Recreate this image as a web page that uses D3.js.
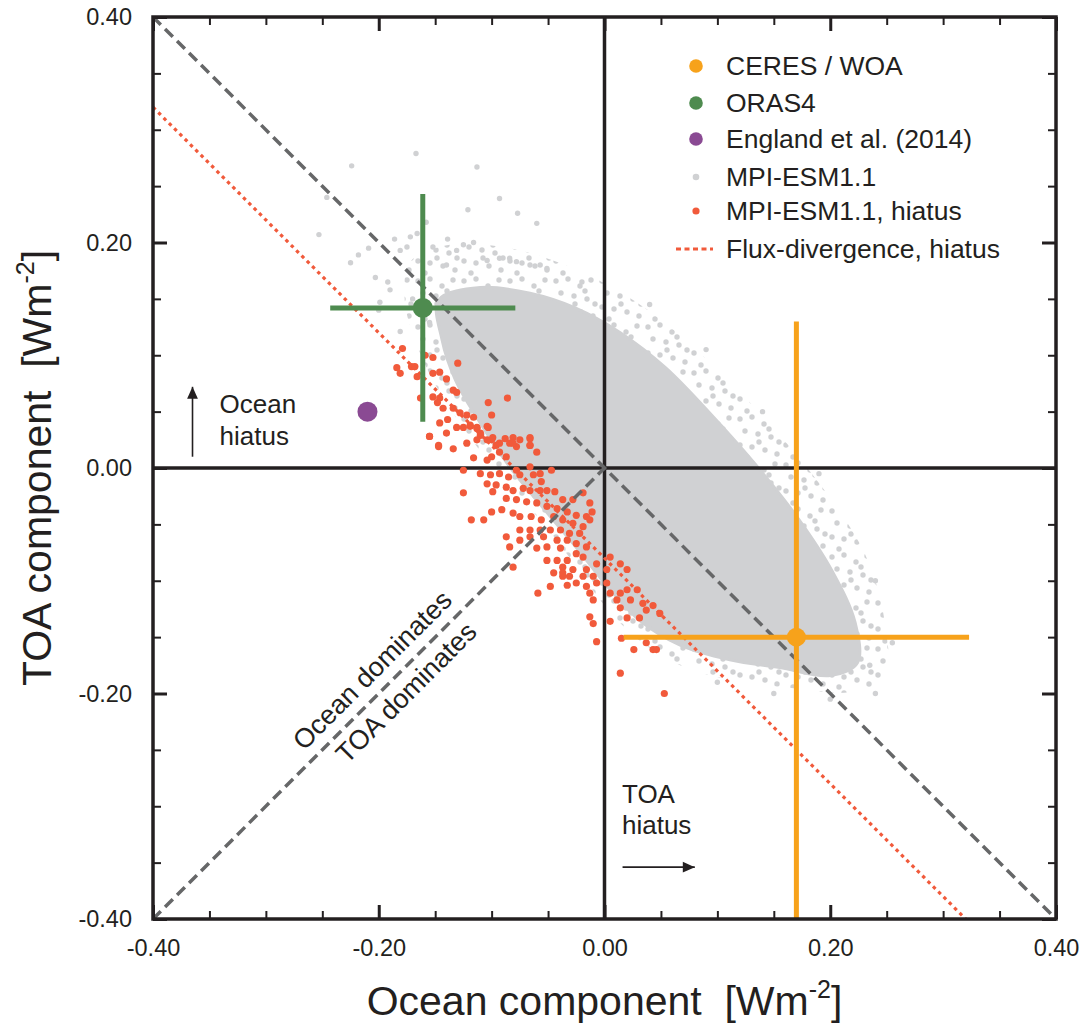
<!DOCTYPE html>
<html><head><meta charset="utf-8">
<script src="https://cdn.jsdelivr.net/npm/d3@7"></script>
<style>
body{margin:0;background:#fff;}
text{font-family:"Liberation Sans",Arial,Helvetica,sans-serif;fill:#231f20;white-space:pre;}
</style>
</head><body>
<svg id="chart" width="1088" height="1027"></svg>
<script>
// ---------------- data ----------------
const majorTicks = [-0.4, -0.2, 0, 0.2, 0.4];
const tickLabels = ["-0.40", "-0.20", "0.00", "0.20", "0.40"];
const minorTicks = [-0.35, -0.3, -0.25, -0.15, -0.1, -0.05, 0.05, 0.1, 0.15, 0.25, 0.3, 0.35];

const ceresWOA = {x: 0.17, y: -0.15, xerr: 0.153, yerr: 0.28};
const oras4 = {x: -0.161, y: 0.142, xerr: 0.082, yerr: 0.101};
const england2014 = {x: -0.21, y: 0.05};

const oneToOneLine = [[-0.4, 0.4], [0.4, -0.4]];
const dominanceLine = [[-0.4, -0.4], [0, 0]];
const fluxDivergenceLine = [[-0.4, 0.32], [0.32, -0.4]];

// MPI-ESM1.1 cloud: outer (sparse) envelope and dense core outline
const mpiEnvelope = [[-0.172,0.183],[-0.137,0.198],[-0.084,0.195],[-0.035,0.180],[0.014,0.156],[0.062,0.122],
  [0.107,0.080],[0.151,0.034],[0.195,-0.020],[0.231,-0.077],[0.248,-0.135],[0.248,-0.188],[0.217,-0.199],
  [0.164,-0.195],[0.111,-0.188],[0.067,-0.175],[0.031,-0.153],[0.000,-0.122],[-0.026,-0.086],[-0.057,-0.046],
  [-0.093,-0.006],[-0.124,0.034],[-0.150,0.074],[-0.168,0.114],[-0.177,0.149]];
const mpiCore = [[-0.147,0.149],[-0.110,0.160],[-0.066,0.155],[-0.026,0.142],[0.014,0.120],[0.054,0.089],
  [0.093,0.049],[0.133,0.004],[0.171,-0.044],[0.202,-0.092],[0.222,-0.137],[0.224,-0.173],[0.200,-0.184],
  [0.155,-0.177],[0.111,-0.170],[0.067,-0.157],[0.031,-0.135],[0.005,-0.108],[-0.023,-0.073],[-0.053,-0.037],
  [-0.084,0.001],[-0.112,0.043],[-0.132,0.078],[-0.144,0.114]];

// scattered MPI-ESM1.1 members
const mpiScatter = [[-0.167,0.279],[-0.224,0.268],[-0.113,0.267],[-0.246,0.240],[-0.093,0.239],[-0.121,0.229],
  [-0.077,0.226],[-0.060,0.217],[-0.158,0.218],[-0.166,0.208],[-0.172,0.205],[-0.186,0.203],[-0.253,0.207],
  [-0.209,0.195],[-0.218,0.189],[-0.225,0.182],[-0.203,0.169],[-0.192,0.165],[-0.181,0.193],[-0.175,0.196],
  [-0.152,0.196],[-0.139,0.203],[-0.131,0.193],[-0.116,0.200],[-0.125,0.198],[-0.104,0.184],[-0.093,0.186],
  [-0.084,0.186],[-0.078,0.183],[-0.066,0.180],[-0.057,0.180],[-0.051,0.177],[-0.190,0.158],[-0.199,0.147],
  [-0.181,0.121],[-0.155,0.129],[-0.02,0.165],[0.04,0.145],[0.09,0.105],[0.14,0.05],[0.19,-0.005],
  [0.24,-0.1],[0.255,-0.155],[0.24,-0.2],[0.2,-0.205],[0.15,-0.2],[0.10,-0.19],[0.235,-0.175],
  [-0.14,0.18],[-0.2,0.14],[-0.17,0.15]];

// MPI-ESM1.1 hiatus members
const mpiHiatus = [[-0.155,0.028],[-0.147,0.019],[-0.134,0.017],[-0.119,0.037],[-0.113,0.035],[-0.110,0.029],
  [-0.104,0.037],[-0.100,0.025],[-0.096,0.020],[-0.093,0.014],[-0.088,0.026],[-0.084,0.022],[-0.078,0.019],
  [-0.075,0.025],[-0.066,0.026],[-0.066,0.020],[-0.060,0.014],[-0.087,0.010],[-0.100,0.010],[-0.104,0.007],
  [-0.116,0.009],[-0.125,-0.002],[-0.110,-0.005],[-0.101,-0.006],[-0.093,-0.005],[-0.085,-0.008],[-0.078,-0.002],
  [-0.075,-0.006],[-0.066,0.001],[-0.063,-0.006],[-0.057,-0.005],[-0.047,-0.002],[-0.056,-0.012],[-0.104,-0.014],
  [-0.096,-0.015],[-0.087,-0.017],[-0.081,-0.020],[-0.072,-0.018],[-0.066,-0.020],[-0.057,-0.020],[-0.051,-0.020],
  [-0.044,-0.021],[-0.037,-0.028],[-0.028,-0.028],[-0.019,-0.022],[-0.013,-0.031],[-0.011,-0.039],[-0.016,-0.043],
  [-0.025,-0.042],[-0.033,-0.039],[-0.042,-0.036],[-0.051,-0.034],[-0.060,-0.031],[-0.069,-0.030],[-0.078,-0.028],
  [-0.087,-0.027],[-0.099,-0.021],[-0.125,-0.022],[-0.100,-0.039],[-0.107,-0.046],[-0.118,-0.046],[-0.091,-0.037],
  [-0.081,-0.040],[-0.075,-0.043],[-0.065,-0.043],[-0.056,-0.046],[-0.045,-0.043],[-0.037,-0.046],[-0.028,-0.049],
  [-0.019,-0.052],[-0.013,-0.046],[-0.022,-0.058],[-0.031,-0.058],[-0.039,-0.055],[-0.048,-0.055],[-0.057,-0.055],
  [-0.066,-0.055],[-0.075,-0.055],[-0.087,-0.061],[-0.066,-0.061],[-0.054,-0.061],[-0.042,-0.064],[-0.033,-0.064],
  [-0.025,-0.067],[-0.016,-0.070],[-0.039,-0.071],[-0.051,-0.070],[-0.060,-0.071],[-0.084,-0.070],[-0.075,-0.064],
  [-0.025,-0.076],[-0.019,-0.079],[-0.033,-0.082],[-0.042,-0.082],[-0.051,-0.082],[-0.037,-0.088],[-0.028,-0.090],
  [-0.016,-0.090],[-0.007,-0.085],[0.005,-0.079],[0.014,-0.085],[0.020,-0.090],[0.002,-0.090],[-0.010,-0.096],
  [-0.019,-0.096],[-0.031,-0.096],[-0.037,-0.096],[-0.045,-0.093],[-0.081,-0.088],[-0.048,-0.105],[-0.033,-0.104],
  [-0.025,-0.102],[-0.016,-0.105],[-0.007,-0.102],[0.002,-0.102],[0.005,-0.111],[0.014,-0.111],[0.020,-0.108],
  [0.029,-0.108],[-0.013,-0.111],[-0.010,-0.117],[0.011,-0.117],[0.023,-0.117],[0.034,-0.120],[0.037,-0.126],
  [0.049,-0.129],[-0.013,-0.132],[-0.010,-0.138],[0.005,-0.136],[0.020,-0.133],[0.031,-0.133],[0.014,-0.124],
  [0.043,-0.122],[-0.007,-0.154],[0.015,-0.151],[0.026,-0.161],[0.037,-0.155],[0.043,-0.161],[0.046,-0.161],
  [0.014,-0.182],[-0.059,-0.111],[-0.037,-0.093],[0.053,-0.200],
  [-0.179,0.106],[-0.184,0.089],[-0.181,0.084],[-0.171,0.090],[-0.168,0.090],[-0.166,0.081],[-0.159,0.100],
  [-0.152,0.098],[-0.152,0.084],[-0.146,0.085],[-0.140,0.079],[-0.130,0.093],[-0.134,0.069],[-0.131,0.067],
  [-0.152,0.063],[-0.146,0.062],[-0.148,0.058],[-0.163,0.062],[-0.143,0.053],[-0.134,0.053],[-0.128,0.049],
  [-0.122,0.047],[-0.116,0.045],[-0.139,0.043],[-0.146,0.040],[-0.131,0.036],[-0.125,0.036],[-0.119,0.038],
  [-0.113,0.036],[-0.110,0.031],[-0.104,0.025],[-0.099,0.027],[-0.093,0.022],[-0.086,0.062],[-0.103,0.058],
  [-0.100,0.047],[-0.103,0.036],[-0.081,0.027],[-0.081,0.022],[-0.066,0.027],[-0.066,0.020],[-0.155,0.028],
  [-0.147,0.020],[-0.140,0.031],[-0.122,0.022],[-0.113,0.025]];

const legendLabels = ["CERES / WOA", "ORAS4", "England et al. (2014)", "MPI-ESM1.1", "MPI-ESM1.1, hiatus", "Flux-divergence, hiatus"];
const legendKinds = ["ceres", "oras", "england", "mpi", "hiatus", "flux"];

// ---------------- styles ----------------
const C = {ceres: "#f7a21b", oras: "#4e8b4f", england: "#8a4a93", mpi: "#d0d1d3", hiatus: "#f15a3b", ink: "#231f20", dash: "#666768"};

const svg = d3.select("#chart");
const x = d3.scaleLinear().domain([-0.4, 0.4]).range([153, 1056]);
const y = d3.scaleLinear().domain([-0.4, 0.4]).range([919, 17]);
const line = d3.line().x(d => x(d[0])).y(d => y(d[1]));
const closed = d3.line().x(d => x(d[0])).y(d => y(d[1])).curve(d3.curveCatmullRomClosed.alpha(0.5));

const defs = svg.append("defs");
defs.append("clipPath").attr("id", "plotclip")
  .append("rect").attr("x", x(-0.4)).attr("y", y(0.4)).attr("width", x(0.4) - x(-0.4)).attr("height", y(-0.4) - y(0.4));
// speckle texture for the sparse fringe of the cloud
const pat = defs.append("pattern").attr("id", "speckle").attr("patternUnits", "userSpaceOnUse").attr("width", 46).attr("height", 46);
[[4,5],[16,3],[28,10],[39,4],[9,17],[22,20],[35,23],[4,31],[16,33],[29,36],[41,40],[11,43],[23,28],[33,15],[43,28]]
  .forEach(p => pat.append("circle").attr("cx", p[0]).attr("cy", p[1]).attr("r", 2.7).attr("fill", C.mpi));

const plot = svg.append("g").attr("clip-path", "url(#plotclip)");

// MPI cloud
plot.append("path").datum(mpiEnvelope).attr("d", closed).attr("fill", "url(#speckle)");
plot.append("path").datum(mpiCore).attr("d", closed).attr("fill", C.mpi).attr("stroke", C.mpi).attr("stroke-width", 3);
plot.append("g").selectAll("circle").data(mpiScatter).join("circle")
  .attr("cx", d => x(d[0])).attr("cy", d => y(d[1])).attr("r", 2.7).attr("fill", C.mpi);

// zero lines
plot.append("line").attr("x1", x(0)).attr("x2", x(0)).attr("y1", y(0.4)).attr("y2", y(-0.4))
  .attr("stroke", C.ink).attr("stroke-width", 3.5);
plot.append("line").attr("x1", x(-0.4)).attr("x2", x(0.4)).attr("y1", y(0)).attr("y2", y(0))
  .attr("stroke", C.ink).attr("stroke-width", 3.5);

// hiatus members
plot.append("g").selectAll("circle").data(mpiHiatus).join("circle")
  .attr("cx", d => x(d[0])).attr("cy", d => y(d[1])).attr("r", 3.6).attr("fill", C.hiatus);

// reference lines
plot.append("path").datum(oneToOneLine).attr("d", line).attr("stroke", C.dash).attr("stroke-width", 3.5)
  .attr("stroke-dasharray", "11,6").attr("fill", "none");
plot.append("path").datum(dominanceLine).attr("d", line).attr("stroke", C.dash).attr("stroke-width", 3.5)
  .attr("stroke-dasharray", "11,6").attr("fill", "none");
plot.append("path").datum(fluxDivergenceLine).attr("d", line).attr("stroke", C.hiatus).attr("stroke-width", 3.2)
  .attr("stroke-dasharray", "3.5,4").attr("fill", "none");

// error-bar estimates
function estimate(p, color, r) {
  const g = plot.append("g");
  g.append("line").attr("x1", x(p.x - p.xerr)).attr("x2", x(p.x + p.xerr)).attr("y1", y(p.y)).attr("y2", y(p.y))
    .attr("stroke", color).attr("stroke-width", 5);
  g.append("line").attr("x1", x(p.x)).attr("x2", x(p.x)).attr("y1", y(p.y - p.yerr)).attr("y2", y(p.y + p.yerr))
    .attr("stroke", color).attr("stroke-width", 5);
  g.append("circle").attr("cx", x(p.x)).attr("cy", y(p.y)).attr("r", r).attr("fill", color);
}
estimate(oras4, C.oras, 10);
estimate(ceresWOA, C.ceres, 9.5);
plot.append("circle").attr("cx", x(england2014.x)).attr("cy", y(england2014.y)).attr("r", 10).attr("fill", C.england);

// ---------------- axes ----------------
function axes(gen, tr, size, vals, fmt, pad, w) {
  const a = gen.tickValues(vals).tickSize(size).tickPadding(pad).tickFormat(fmt);
  const g = svg.append("g").attr("transform", tr).call(a);
  g.select(".domain").remove();
  g.selectAll(".tick line").attr("stroke", C.ink).attr("stroke-width", w);
  g.selectAll("text").attr("font-size", 23.5).attr("fill", C.ink).style("font-family", '"Liberation Sans",Arial,sans-serif');
  return g;
}
const lab = (d) => tickLabels[majorTicks.indexOf(d)];
const none = () => "";
axes(d3.axisBottom(x), `translate(0,${y(-0.4)})`, -14, majorTicks, lab, 20, 3);
axes(d3.axisBottom(x), `translate(0,${y(-0.4)})`, -8, minorTicks, none, 0, 2);
axes(d3.axisTop(x), `translate(0,${y(0.4)})`, -14, majorTicks, none, 0, 3);
axes(d3.axisTop(x), `translate(0,${y(0.4)})`, -8, minorTicks, none, 0, 2);
axes(d3.axisLeft(y), `translate(${x(-0.4)},0)`, -14, majorTicks, lab, 21, 3);
axes(d3.axisLeft(y), `translate(${x(-0.4)},0)`, -8, minorTicks, none, 0, 2);
axes(d3.axisRight(y), `translate(${x(0.4)},0)`, -14, majorTicks, none, 0, 3);
axes(d3.axisRight(y), `translate(${x(0.4)},0)`, -8, minorTicks, none, 0, 2);

svg.append("rect").attr("x", x(-0.4)).attr("y", y(0.4)).attr("width", x(0.4) - x(-0.4)).attr("height", y(-0.4) - y(0.4))
  .attr("fill", "none").attr("stroke", C.ink).attr("stroke-width", 3.5);

// axis titles
const xt = svg.append("text").attr("x", x(0)).attr("y", 1015).attr("text-anchor", "middle").attr("font-size", 41);
xt.append("tspan").text("Ocean component  [Wm");
xt.append("tspan").text("-2").attr("font-size", 25).attr("dy", -17);
xt.append("tspan").text("]").attr("dy", 17);

const yt = svg.append("text").attr("transform", `translate(51,${y(0)}) rotate(-90)`).attr("text-anchor", "middle").attr("font-size", 41);
yt.append("tspan").text("TOA component  [Wm");
yt.append("tspan").text("-2").attr("font-size", 25).attr("dy", -17);
yt.append("tspan").text("]").attr("dy", 17);

// ---------------- annotations ----------------
defs.append("marker").attr("id", "ah").attr("viewBox", "0 0 10 10").attr("refX", 10).attr("refY", 5)
  .attr("markerWidth", 16).attr("markerHeight", 12).attr("markerUnits", "userSpaceOnUse").attr("orient", "auto")
  .append("path").attr("d", "M0,0.5 L10,5 L0,9.5 Z").attr("fill", C.ink);

const oceanArrow = [[-0.365, 0.010], [-0.365, 0.072]];
const toaArrow = [[0.016, -0.354], [0.080, -0.354]];
[oceanArrow, toaArrow].forEach(a => {
  svg.append("line").attr("x1", x(a[0][0])).attr("y1", y(a[0][1])).attr("x2", x(a[1][0])).attr("y2", y(a[1][1]))
    .attr("stroke", C.ink).attr("stroke-width", 1.6).attr("marker-end", "url(#ah)");
});
const annot = [
  {t: "Ocean", x: -0.341, y: 0.049}, {t: "hiatus", x: -0.341, y: 0.020},
  {t: "TOA", x: 0.0155, y: -0.297}, {t: "hiatus", x: 0.0155, y: -0.325}
];
svg.append("g").selectAll("text").data(annot).join("text").attr("x", d => x(d.x)).attr("y", d => y(d.y))
  .attr("font-size", 26).text(d => d.t);

const dom = svg.append("g").attr("transform", `translate(${x(-0.19)},${y(-0.19)}) rotate(-45)`);
dom.append("text").attr("x", -4).attr("y", -12).attr("text-anchor", "middle").attr("font-size", 27).text("Ocean dominates");
dom.append("text").attr("x", 4).attr("y", 28).attr("text-anchor", "middle").attr("font-size", 27).text("TOA dominates");

// ---------------- legend ----------------
const legRowY = [66, 103, 139, 177, 211, 249];
const leg = svg.append("g");
legendLabels.forEach((l, i) => {
  const k = legendKinds[i], yy = legRowY[i];
  if (k === "flux") {
    leg.append("line").attr("x1", 676).attr("x2", 713).attr("y1", yy).attr("y2", yy).attr("stroke", C.hiatus)
      .attr("stroke-width", 3).attr("stroke-dasharray", "5,3.5");
  } else {
    const r = {ceres: 6.8, oras: 6.8, england: 6.8, mpi: 3.3, hiatus: 3.6}[k];
    leg.append("circle").attr("cx", 696).attr("cy", yy).attr("r", r).attr("fill", C[k]);
  }
  leg.append("text").attr("x", 726).attr("y", yy + 9).attr("font-size", 26.5).text(l);
});
</script>
</body></html>
